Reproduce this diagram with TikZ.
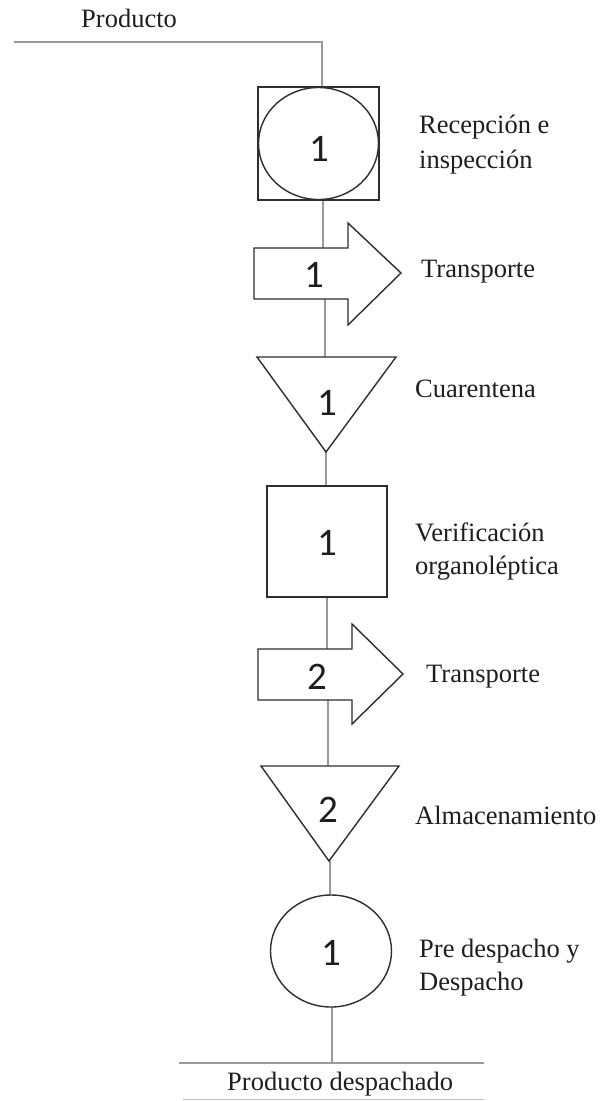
\documentclass[tikz,border=0pt]{standalone}
\usepackage{fontspec}
\setmainfont{Liberation Serif}
\newfontfamily\numfont{Carlito}
\definecolor{shapeline}{HTML}{2E2E2E}
\definecolor{conn}{HTML}{9A9A9A}
\definecolor{txt}{HTML}{1E1E1E}
\begin{document}
\begin{tikzpicture}[x=1pt,y=-1pt,
  shapebox/.style={draw=shapeline,line width=1.4pt,fill=white,line join=miter},
  connline/.style={draw=conn,line width=1.5pt},
  numlbl/.style={font=\numfont\fontsize{39}{42}\selectfont,text=txt,inner sep=0pt,anchor=center},
  desc/.style={font=\fontsize{26.5}{32}\selectfont,text=txt,inner sep=0pt,anchor=base west}]
\useasboundingbox (0,0) rectangle (607,1101);
% connector end points
\coordinate (inL) at (14,42);
\coordinate (inC) at (322,42);
\coordinate (s1t) at (322,87);
\coordinate (s1b) at (323,200);
\coordinate (a1t) at (323,248);
\coordinate (a1b) at (325,299);
\coordinate (t1t) at (325,357);
\coordinate (t1b) at (326,452);
\coordinate (s2t) at (326,486);
\coordinate (s2b) at (327,597);
\coordinate (a2t) at (327,649);
\coordinate (a2b) at (328,700);
\coordinate (t2t) at (328,766);
\coordinate (t2b) at (330,861);
\coordinate (c1t) at (330,895);
\coordinate (c1b) at (332,1007);
\coordinate (outC) at (332,1063);
\coordinate (outL) at (179,1063);
\coordinate (outR) at (484,1063);
\coordinate (botL) at (183,1099.5);
\coordinate (botR) at (484,1099.5);
% connectors
\draw[connline] (inL) -- (inC) -- (s1t);
\draw[connline] (s1b) -- (a1t);
\draw[connline] (a1b) -- (t1t);
\draw[connline] (t1b) -- (s2t);
\draw[connline] (s2b) -- (a2t);
\draw[connline] (a2b) -- (t2t);
\draw[connline] (t2b) -- (c1t);
\draw[connline] (c1b) -- (outC);
\draw[connline] (outL) -- (outR);
\draw[connline,line width=1pt,draw=conn!60] (botL) -- (botR);
% shapes
\draw[shapebox] (258,87) rectangle (379,200);
\draw[shapebox] (318.5,143.5) ellipse [x radius=60,y radius=56];
\draw[shapebox] (254,248) -- (348,248) -- (348,223) -- (401,273) -- (348,325) -- (348,299) -- (254,299) -- cycle;
\draw[shapebox] (257,357) -- (396,357) -- (326,452) -- cycle;
\draw[shapebox] (267,486) rectangle (387,597);
\draw[shapebox] (258,649) -- (352,649) -- (352,624) -- (403,674) -- (352,724) -- (352,700) -- (258,700) -- cycle;
\draw[shapebox] (261,766) -- (399,766) -- (329,861) -- cycle;
\draw[shapebox] (331,951) ellipse [x radius=60.5,y radius=56];
% numbers
\node[numlbl] (n1) at (319,149) {1};
\node[numlbl] (n2) at (314,275) {1};
\node[numlbl] (n3) at (327,403) {1};
\node[numlbl] (n4) at (327,543) {1};
\node[numlbl] (n5) at (317,677) {2};
\node[numlbl] (n6) at (328,810) {2};
\node[numlbl] (n7) at (331,953) {1};
% texts
\node[desc] (prod) at (81,27) {Producto};
\node[desc] (l1a) at (419,133) {Recepción e};
\node[desc] (l1b) at (419,168) {inspección};
\node[desc] (l2) at (421,277) {Transporte};
\node[desc] (l3) at (415,397) {Cuarentena};
\node[desc] (l4a) at (415,541) {Verificación};
\node[desc] (l4b) at (415,574) {organoléptica};
\node[desc] (l5) at (426,682) {Transporte};
\node[desc] (l6) at (415,824) {Almacenamiento};
\node[desc] (l7a) at (419,957) {Pre despacho y};
\node[desc] (l7b) at (419,990) {Despacho};
\node[desc] (out) at (227,1090) {Producto despachado};
\end{tikzpicture}
\end{document}
